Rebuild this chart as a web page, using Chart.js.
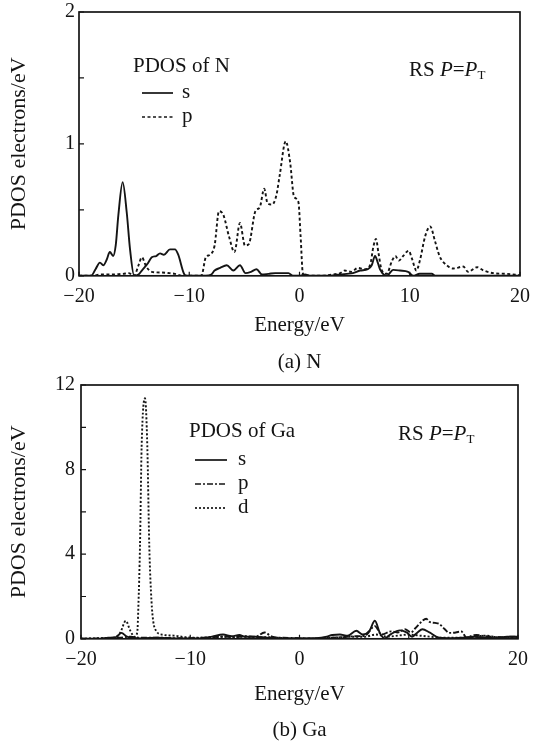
<!DOCTYPE html>
<html><head><meta charset="utf-8">
<script src="https://cdn.jsdelivr.net/npm/chart.js@4.4.0/dist/chart.umd.min.js"></script>
<style>
html,body{margin:0;padding:0;background:#fff;width:533px;height:745px;overflow:hidden}
.box{position:absolute;left:0;width:533px}
#w1{top:0;height:375px}
#w2{top:375px;height:370px}
</style></head><body>
<div class="box" id="w1"><canvas id="c1"></canvas></div>
<div class="box" id="w2"><canvas id="c2"></canvas></div>
<script>
// ---------- data: (a) N ----------
const xTicksEnergy = [-20, -10, 0, 10, 20];
const energyN_s = [-20,-18.9,-18.5,-18.1,-17.8,-17.5,-17.2,-16.9,-16.67,-16.43,-16.04,-15.67,-15.37,-15.0,-14.6,-14.3,-13.8,-13.4,-13.0,-12.65,-12.3,-11.75,-11.3,-11.0,-10.5,-10.3,-8.5,-8.0,-7.7,-7.2,-6.6,-6.0,-5.4,-4.9,-4.4,-3.9,-3.4,-2.8,-2.2,-1.5,-1.0,-0.6,0,0.5,1.0,2.6,3.2,3.7,4.3,4.85,5.5,6.2,6.55,6.85,7.1,7.3,7.9,8.5,9.1,9.85,10.3,10.9,12.0,12.3,20];
const pdosN_s   = [0,0,0.05,0.10,0.08,0.12,0.18,0.15,0.23,0.46,0.71,0.48,0.20,0.0,0.01,0.04,0.09,0.14,0.15,0.17,0.16,0.20,0.20,0.16,0.02,0,0,0.01,0.04,0.06,0.08,0.04,0.08,0.02,0.03,0.05,0.01,0.015,0.02,0.02,0.02,0,0,0.01,0,0,0.005,0.01,0.015,0.02,0.04,0.05,0.08,0.15,0.10,0.05,0,0.045,0.04,0.03,0,0.015,0.015,0,0];
const energyN_p = [-20,-19,-18.5,-18,-17,-16,-15.5,-15.0,-14.6,-14.3,-13.9,-13.4,-12.5,-11.8,-11.3,-10.6,-8.9,-8.5,-8.1,-7.7,-7.3,-6.9,-6.4,-5.9,-5.4,-4.95,-4.6,-4.0,-3.6,-3.2,-2.9,-2.5,-2.1,-1.8,-1.25,-0.85,-0.5,-0.1,0.1,0.3,0.5,2.0,3.0,3.7,4.1,4.7,5.3,5.9,6.4,6.7,6.94,7.15,7.45,7.9,8.4,8.7,9.0,9.4,9.9,10.2,10.6,10.9,11.4,11.85,12.3,12.7,13.35,13.95,14.85,15.3,16.1,16.7,17.6,18.8,20];
const pdosN_p   = [0,0,0.005,0.01,0.01,0.015,0.02,0,0.08,0.14,0.07,0.03,0.025,0.02,0.015,0,0,0.14,0.16,0.23,0.49,0.46,0.30,0.18,0.40,0.23,0.24,0.49,0.52,0.66,0.55,0.54,0.61,0.76,1.02,0.86,0.60,0.56,0.30,0.02,0,0,0.01,0.02,0.04,0.03,0.06,0.05,0.08,0.22,0.28,0.18,0.045,0.015,0.115,0.15,0.115,0.15,0.19,0.13,0.04,0.11,0.30,0.375,0.26,0.15,0.08,0.055,0.07,0.03,0.065,0.04,0.02,0.015,0.005];

// ---------- data: (b) Ga ----------
const energyGa_s = [-20,-18.5,-17.5,-16.8,-16.3,-15.8,-15.3,-14.5,-13,-12,-10.5,-9,-8,-7,-6.2,-5.5,-5,-4,-3,-2,-1,0,1,2,2.5,3,3.7,4.4,5.2,5.8,6.4,6.9,7.35,7.8,8.3,9.2,9.8,10.3,10.8,11.25,11.9,12.8,14,15,16,17,18,19,20];
const pdosGa_s   = [0,0,0.05,0.08,0.28,0.1,0.05,0.02,0.05,0.03,0.02,0.02,0.1,0.2,0.12,0.18,0.1,0.1,0.05,0.03,0.02,0.02,0.02,0.05,0.1,0.18,0.2,0.15,0.38,0.2,0.38,0.85,0.28,0.02,0.2,0.4,0.3,0.1,0.3,0.45,0.3,0.05,0.03,0.05,0.1,0.05,0.03,0.1,0.1];
const energyGa_p = [-20,-18,-16.5,-15.5,-14.5,-13,-11,-9,-8,-7,-6,-5,-4,-3.2,-2.5,-1.5,0,1,2,3,4,5,6,6.9,7.5,8.4,9,9.65,10.2,10.6,11.25,11.6,11.9,12.4,12.8,13.3,13.7,14.3,14.8,15.3,15.8,16.2,17,17.5,18.5,19.5,20];
const pdosGa_p   = [0,0.02,0.05,0.1,0.05,0.05,0.03,0.05,0.08,0.1,0.08,0.12,0.1,0.3,0.1,0.05,0.03,0.02,0.03,0.05,0.08,0.12,0.15,0.6,0.2,0.35,0.3,0.45,0.3,0.5,0.85,0.95,0.8,0.75,0.7,0.45,0.28,0.3,0.35,0.05,0.15,0.18,0.12,0.1,0.08,0.1,0.1];
const energyGa_d = [-20,-18,-17,-16.4,-15.9,-15.5,-15.1,-14.85,-14.75,-14.6,-14.45,-14.14,-13.93,-13.75,-13.55,-13.38,-13.1,-12.6,-11.5,-10.5,-9,-8,-7,-6,-5,-4,-3,-2,-1,0,2,3,4,5,6,7,8,9,10,11,12,13,14,15,16,17,18,19,20];
const pdosGa_d   = [0,0.03,0.05,0.3,0.85,0.4,0.1,0.3,1.5,4.4,9.1,11.37,9.1,4.4,1.8,0.8,0.36,0.2,0.15,0.08,0.05,0.05,0.1,0.08,0.1,0.05,0.08,0.05,0.02,0.02,0.02,0.05,0.08,0.1,0.1,0.2,0.1,0.15,0.2,0.15,0.1,0.05,0.05,0.05,0.1,0.15,0.08,0.05,0.05];

const SERIF = '"Liberation Serif","Times New Roman",serif';
const INK = '#141414';
const pts = (xs, ys) => xs.map((x, i) => ({x, y: ys[i]}));
const minus = v => String(v).replace('-', '\u2212');

const framePlugin = {
  id: 'frame',
  afterDatasetsDraw(chart, args, o) {
    const {ctx, chartArea: a, scales: {x, y}} = chart;
    ctx.save();
    ctx.setLineDash([]);
    ctx.strokeStyle = INK;
    ctx.lineWidth = 1.7;
    ctx.strokeRect(a.left, a.top, a.right - a.left, a.bottom - a.top);
    ctx.lineWidth = 1.2;
    ctx.beginPath();
    x.ticks.forEach(t => { const px = x.getPixelForValue(t.value); ctx.moveTo(px, a.bottom); ctx.lineTo(px, a.bottom - 4); });
    y.ticks.forEach(t => { const py = y.getPixelForValue(t.value); ctx.moveTo(a.left, py); ctx.lineTo(a.left + 5, py); });
    ctx.stroke();

    // legend
    const L = o.legend;
    ctx.fillStyle = INK;
    ctx.textBaseline = 'alphabetic';
    ctx.font = '21px ' + SERIF;
    ctx.fillText(L.title, a.left + L.dx, a.top + L.dy);
    chart.data.datasets.forEach((ds, i) => {
      const ly = a.top + L.dy + L.first + i * L.step;
      ctx.beginPath();
      ctx.lineWidth = 1.7;
      ctx.setLineDash(ds.borderDash || []);
      ctx.moveTo(a.left + L.lx0, ly);
      ctx.lineTo(a.left + L.lx1, ly);
      ctx.stroke();
      ctx.setLineDash([]);
      ctx.fillText(ds.label, a.left + L.tx, ly + 5);
    });

    // annotation RS P=P_T
    const A = o.note;
    let cx = a.left + A.dx;
    const by = a.top + A.dy;
    const parts = [['RS ', ''], ['P', 'italic '], ['=', ''], ['P', 'italic ']];
    parts.forEach(([s, st]) => {
      ctx.font = st + '21px ' + SERIF;
      ctx.fillText(s, cx, by);
      cx += ctx.measureText(s).width;
    });
    ctx.font = '13px ' + SERIF;
    ctx.fillText('T', cx, by + 3);
    ctx.restore();
  }
};

function makeChart(id, cfg) {
  const tickFont = {family: SERIF, size: 20, lineHeight: 1.2};
  return new Chart(document.getElementById(id), {
    type: 'line',
    data: {datasets: cfg.datasets.map(d => ({
      label: d.label, data: d.data, borderColor: INK, borderWidth: 1.9,
      borderDash: d.dash, pointRadius: 0, fill: false,
      cubicInterpolationMode: 'monotone'
    }))},
    options: {
      responsive: true, maintainAspectRatio: false, animation: false, devicePixelRatio: 1,
      layout: {padding: cfg.pad},
      plugins: {
        legend: {display: false},
        tooltip: {enabled: false},
        title: {display: true, text: cfg.caption, position: 'bottom', fullSize: false,
          font: {family: SERIF, size: 21, weight: 'normal', lineHeight: 1.2}, color: INK,
          padding: {top: 0, bottom: cfg.capPadB}},
        frame: {legend: cfg.legend, note: cfg.note}
      },
      scales: {
        x: {type: 'linear', min: -20, max: 20,
          afterBuildTicks: s => { s.ticks = xTicksEnergy.map(v => ({value: v})); },
          ticks: {font: tickFont, color: INK, padding: 9, callback: v => minus(v)},
          grid: {display: false, drawTicks: false}, border: {display: false},
          title: {display: true, text: 'Energy/eV', color: INK,
            font: {family: SERIF, size: 21, lineHeight: 1.2}, padding: {top: 0, bottom: cfg.xTitlePadB}},
          afterFit: s => { s.height = cfg.xh; s.paddingLeft = 0; s.paddingRight = 0; }
        },
        y: {type: 'linear', min: 0, max: cfg.ymax,
          ticks: {font: tickFont, color: INK, padding: cfg.ytp, stepSize: cfg.ystep, callback: cfg.ylab},
          grid: {display: false, drawTicks: false}, border: {display: false},
          title: {display: true, text: 'PDOS electrons/eV', color: INK,
            font: {family: SERIF, size: 22, lineHeight: 1.2}, padding: {top: 6, bottom: 0}},
          afterFit: s => { s.width = cfg.yw; s.paddingTop = 0; s.paddingBottom = 0; }
        }
      }
    },
    plugins: [framePlugin]
  });
}

makeChart('c1', {
  datasets: [
    {label: 's', data: pts(energyN_s, pdosN_s), dash: []},
    {label: 'p', data: pts(energyN_p, pdosN_p), dash: [3, 2.5]}
  ],
  caption: '(a) N', capPadB: 0, pad: {top: 12, right: 13, bottom: 0, left: 0},
  xh: 74, xTitlePadB: 12, yw: 79, ymax: 2, ystep: 0.5, ytp: 4,
  ylab: v => Number.isInteger(v) ? String(v) : '',
  legend: {title: 'PDOS of N', dx: 54, dy: 60, first: 21, step: 24, lx0: 63, lx1: 94, tx: 103},
  note: {dx: 330, dy: 64}
});

makeChart('c2', {
  datasets: [
    {label: 's', data: pts(energyGa_s, pdosGa_s), dash: []},
    {label: 'p', data: pts(energyGa_p, pdosGa_p), dash: [6, 2, 2, 2]},
    {label: 'd', data: pts(energyGa_d, pdosGa_d), dash: [2, 2]}
  ],
  caption: '(b) Ga', capPadB: 2, pad: {top: 10, right: 15, bottom: 0, left: 0},
  xh: 79, xTitlePadB: 11, yw: 81, ymax: 12, ystep: 2, ytp: 6,
  ylab: v => (v % 4 === 0) ? String(v) : '',
  legend: {title: 'PDOS of Ga', dx: 108, dy: 52, first: 23, step: 24, lx0: 114, lx1: 146, tx: 157},
  note: {dx: 317, dy: 55}
});
</script>
</body></html>
